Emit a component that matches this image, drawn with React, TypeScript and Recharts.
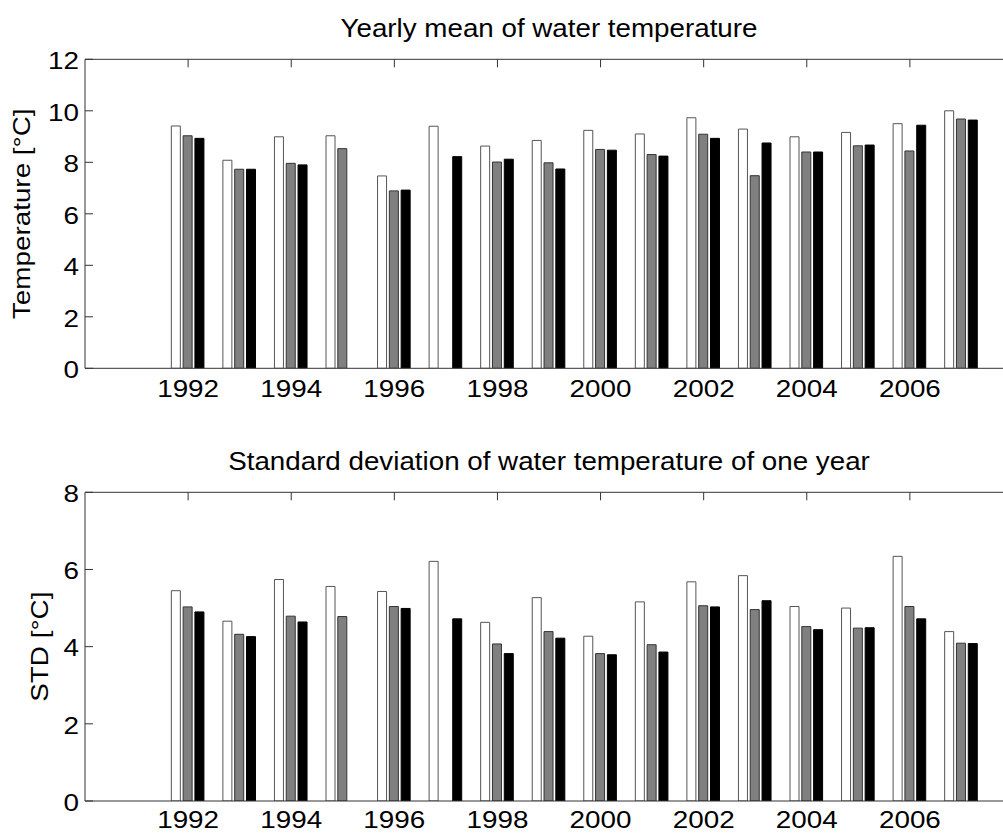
import React from 'react';
import { BarChart, Bar, XAxis, YAxis } from 'recharts';

// ---- data ----
const years = [1992, 1993, 1994, 1995, 1996, 1997, 1998, 1999, 2000, 2001, 2002, 2003, 2004, 2005, 2006, 2007];
const meanWhite = [9.41, 8.08, 8.99, 9.03, 7.47, 9.40, 8.63, 8.85, 9.24, 9.10, 9.73, 9.29, 8.99, 9.16, 9.50, 10.0];
const meanGray = [9.03, 7.73, 7.96, 8.53, 6.89, null, 8.01, 7.98, 8.50, 8.30, 9.09, 7.48, 8.40, 8.64, 8.44, 9.68];
const meanBlack = [8.93, 7.73, 7.90, null, 6.92, 8.22, 8.12, 7.74, 8.47, 8.24, 8.93, 8.75, 8.40, 8.67, 9.44, 9.64];
const stdWhite = [5.45, 4.66, 5.74, 5.56, 5.43, 6.21, 4.63, 5.27, 4.27, 5.16, 5.68, 5.84, 5.04, 5.00, 6.34, 4.39];
const stdGray = [5.03, 4.32, 4.79, 4.78, 5.04, null, 4.07, 4.39, 3.82, 4.05, 5.06, 4.96, 4.52, 4.48, 5.04, 4.09];
const stdBlack = [4.90, 4.26, 4.64, null, 4.99, 4.72, 3.82, 4.22, 3.79, 3.86, 5.03, 5.19, 4.44, 4.49, 4.72, 4.08];
const xTicks = [1992, 1994, 1996, 1998, 2000, 2002, 2004, 2006];
const xDomain = [1990, 2008];
const meanTicks = [0, 2, 4, 6, 8, 10, 12];
const stdTicks = [0, 2, 4, 6, 8];

const meanData = years.map((y, i) => ({ year: y, a: meanWhite[i], b: meanGray[i], c: meanBlack[i] }));
const stdData = years.map((y, i) => ({ year: y, a: stdWhite[i], b: stdGray[i], c: stdBlack[i] }));

const FONT = "'Liberation Sans', Arial, Helvetica, sans-serif";
const FS = 24;
const SX = 1.16; // horizontal glyph stretch of the reference lettering
const AX = '#333';
const Y_AXIS_W = 60;
const X_AXIS_H = 30;
const TOP_AXIS_H = 1;

type STextProps = {
  x: number;
  y: number;
  anchor: 'start' | 'middle' | 'end';
  rotate?: boolean;
  size?: number;
  sx?: number;
  children: React.ReactNode;
};

const SText = ({ x, y, anchor, rotate = false, size = FS, sx = SX, children }: STextProps) => (
  <text
    transform={`translate(${x} ${y})${rotate ? ' rotate(-90)' : ''} scale(${sx} 1)`}
    x={0}
    y={0}
    textAnchor={anchor}
    fontFamily={FONT}
    fontSize={size}
    fill="#000"
  >
    {children}
  </text>
);

const makeBottomTick = (offset: number) => (props: any) => {
  const { x, y, payload } = props;
  return (
    <SText x={x} y={y + offset} anchor="middle">
      {payload.value}
    </SText>
  );
};

const TopTick = (props: any) => {
  const { x, y } = props;
  return <line x1={x} x2={x} y1={y} y2={y + 8} stroke={AX} strokeWidth={1} />;
};

const LeftTick = (props: any) => {
  const { x, y, payload } = props;
  return (
    <g>
      <line x1={x} x2={x + 8} y1={y} y2={y} stroke={AX} strokeWidth={1} />
      <SText x={x - 6} y={y + 9.8} anchor="end">
        {payload.value}
      </SText>
    </g>
  );
};

const makeTitle = (text: string) => (props: any) => {
  const vb = props.viewBox || {};
  return (
    <SText x={vb.x + vb.width / 2} y={vb.y + vb.height - 22.6} anchor="middle" size={25} sx={1.11}>
      {text}
    </SText>
  );
};

const makeYLabel = (text: string, dx: number) => (props: any) => {
  const vb = props.viewBox || {};
  const cx = vb.x + vb.width - dx;
  const cy = vb.y + vb.height / 2;
  return (
    <SText x={cx} y={cy} anchor="middle" rotate>
      {text}
    </SText>
  );
};

type PanelProps = {
  data: any[];
  height: number;
  plotTop: number;
  plotBottom: number;
  yTicks: number[];
  yMax: number;
  title: string;
  ylabel: string;
  ylabelDx: number;
  xLabelOffset: number;
};

const Panel = ({ data, height, plotTop, plotBottom, yTicks, yMax, title, ylabel, ylabelDx, xLabelOffset }: PanelProps) => (
  <BarChart
    width={1030}
    height={height}
    data={data}
    margin={{
      top: plotTop - TOP_AXIS_H,
      left: 85 - Y_AXIS_W,
      right: 17,
      bottom: height - plotBottom - X_AXIS_H,
    }}
    barSize={9}
    barGap={2.8}
  >
    <XAxis
      dataKey="year"
      type="number"
      domain={xDomain}
      ticks={xTicks}
      interval={0}
      height={X_AXIS_H}
      tickSize={0}
      tickMargin={0}
      tickLine={false}
      tick={makeBottomTick(xLabelOffset)}
      axisLine={{ stroke: AX, strokeWidth: 1 }}
      allowDataOverflow
    />
    <XAxis
      xAxisId="top"
      orientation="top"
      dataKey="year"
      type="number"
      domain={xDomain}
      ticks={xTicks}
      interval={0}
      height={TOP_AXIS_H}
      tickSize={0}
      tickMargin={0}
      tickLine={false}
      tick={TopTick}
      axisLine={{ stroke: AX, strokeWidth: 1 }}
      label={makeTitle(title)}
      allowDataOverflow
    />
    <YAxis
      type="number"
      domain={[0, yMax]}
      ticks={yTicks}
      interval={0}
      width={Y_AXIS_W}
      tickSize={0}
      tickMargin={0}
      tickLine={false}
      tick={LeftTick}
      axisLine={{ stroke: AX, strokeWidth: 1 }}
      label={makeYLabel(ylabel, ylabelDx)}
      allowDataOverflow
    />
    <Bar dataKey="a" fill="#ffffff" stroke="#555555" strokeWidth={1} isAnimationActive={false} />
    <Bar dataKey="b" fill="#808080" stroke="#333333" strokeWidth={1} isAnimationActive={false} />
    <Bar dataKey="c" fill="#000000" stroke="#000000" strokeWidth={1} isAnimationActive={false} />
  </BarChart>
);

export default function App() {
  return (
    <div
      style={{
        position: 'fixed',
        left: 0,
        top: 0,
        width: 1003,
        height: 833,
        overflow: 'hidden',
        background: '#fff',
      }}
    >
      <Panel
        data={meanData}
        height={410}
        plotTop={59.3}
        plotBottom={368.3}
        yTicks={meanTicks}
        yMax={12}
        title="Yearly mean of water temperature"
        ylabel="Temperature [°C]"
        ylabelDx={55}
        xLabelOffset={29}
      />
      <Panel
        data={stdData}
        height={423}
        plotTop={82.3}
        plotBottom={391}
        yTicks={stdTicks}
        yMax={8}
        title="Standard deviation of water temperature of one year"
        ylabel="STD [°C]"
        ylabelDx={37}
        xLabelOffset={26.5}
      />
    </div>
  );
}
